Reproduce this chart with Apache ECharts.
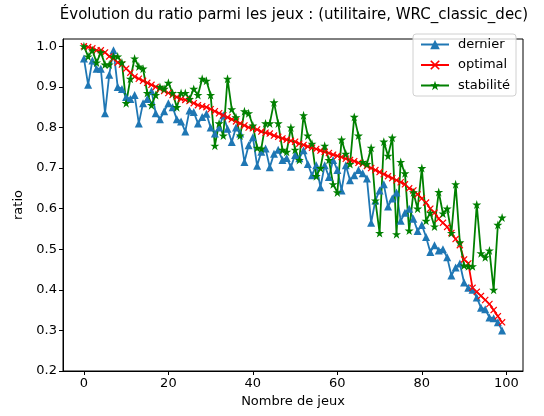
<!DOCTYPE html>
<html>
<head>
<meta charset="utf-8">
<script src="https://cdn.jsdelivr.net/npm/echarts@6/dist/echarts.min.js"></script>
<style>
html,body{margin:0;padding:0;background:#fff;}
#chart{width:544px;height:416px;}
</style>
</head>
<body>
<div id="chart"></div>
<script>
var games = [0,1,2,3,4,5,6,7,8,9,10,11,12,13,14,15,16,17,18,19,20,21,22,23,24,25,26,27,28,29,30,31,32,33,34,35,36,37,38,39,40,41,42,43,44,45,46,47,48,49,50,51,52,53,54,55,56,57,58,59,60,61,62,63,64,65,66,67,68,69,70,71,72,73,74,75,76,77,78,79,80,81,82,83,84,85,86,87,88,89,90,91,92,93,94,95,96,97,98,99];

var dernier = [0.97,0.905,0.965,0.945,0.945,0.835,0.93,0.99,0.90,0.895,
0.875,0.87,0.88,0.81,0.86,0.87,0.89,0.835,0.82,0.84,
0.86,0.85,0.82,0.815,0.79,0.842,0.838,0.81,0.826,0.834,
0.80,0.785,0.80,0.83,0.797,0.764,0.80,0.785,0.715,0.756,
0.776,0.706,0.74,0.748,0.702,0.735,0.745,0.72,0.725,0.703,
0.732,0.724,0.744,0.71,0.682,0.707,0.653,0.707,0.678,0.72,
0.695,0.645,0.707,0.67,0.682,0.695,0.687,0.674,0.565,0.62,
0.645,0.66,0.605,0.625,0.64,0.57,0.59,0.60,0.575,0.545,
0.56,0.53,0.493,0.51,0.497,0.50,0.48,0.435,0.455,0.465,
0.418,0.405,0.40,0.381,0.356,0.352,0.332,0.33,0.32,0.30];

var optimal = [1.0,0.998,0.995,0.99,0.99,0.985,0.975,0.97,0.96,0.955,
0.945,0.935,0.925,0.92,0.915,0.91,0.905,0.90,0.895,0.89,
0.885,0.88,0.875,0.87,0.868,0.865,0.86,0.855,0.852,0.85,
0.845,0.84,0.835,0.83,0.825,0.82,0.815,0.81,0.805,0.80,
0.798,0.795,0.79,0.787,0.785,0.78,0.777,0.773,0.77,0.767,
0.765,0.76,0.757,0.753,0.75,0.747,0.743,0.74,0.737,0.733,
0.73,0.727,0.723,0.72,0.717,0.713,0.71,0.705,0.70,0.695,
0.69,0.685,0.68,0.675,0.67,0.665,0.66,0.65,0.645,0.635,
0.625,0.615,0.60,0.59,0.575,0.565,0.555,0.54,0.525,0.51,
0.475,0.465,0.405,0.395,0.385,0.375,0.365,0.35,0.335,0.32];

var stabilite = [1.0,0.975,0.99,0.96,0.985,0.955,0.955,0.975,0.975,0.96,
0.86,0.92,0.97,0.95,0.945,0.885,0.855,0.88,0.90,0.895,
0.91,0.885,0.85,0.885,0.885,0.87,0.895,0.88,0.92,0.915,
0.88,0.755,0.81,0.78,0.92,0.845,0.825,0.78,0.84,0.835,
0.805,0.75,0.748,0.81,0.81,0.862,0.81,0.745,0.74,0.80,
0.745,0.72,0.83,0.78,0.76,0.68,0.70,0.755,0.72,0.66,
0.64,0.77,0.735,0.71,0.826,0.78,0.715,0.71,0.75,0.62,
0.54,0.765,0.73,0.775,0.537,0.715,0.687,0.546,0.64,0.60,
0.70,0.57,0.59,0.556,0.641,0.588,0.60,0.54,0.66,0.517,
0.46,0.458,0.458,0.61,0.49,0.48,0.497,0.40,0.56,0.578];

var xTicks = [0,20,40,60,80,100];
var yTicks = [0.2,0.3,0.4,0.5,0.6,0.7,0.8,0.9,1.0];

function pairs(vals){ return games.map(function(g,i){ return [g, vals[i]]; }); }

var FONT = 'DejaVu Sans';
var xSym = 'path://M0,1.2L1.2,0L5,3.8L8.8,0L10,1.2L6.2,5L10,8.8L8.8,10L5,6.2L1.2,10L0,8.8L3.8,5Z';
var starSym = 'path://M10,0L12.245,6.91L19.511,6.91L13.633,11.18L15.878,18.09L10,13.82L4.122,18.09L6.367,11.18L0.489,6.91L7.755,6.91Z';

var chart = echarts.init(document.getElementById('chart'), null, {renderer:'canvas'});
chart.setOption({
  animation:false,
  backgroundColor:'#fff',
  title:{
    text:'Évolution du ratio parmi les jeux : (utilitaire, WRC_classic_dec)',
    left:289, top:3, textAlign:'center',
    textStyle:{fontFamily:FONT, fontSize:15, fontWeight:'normal', color:'#000'}
  },
  legend:{
    orient:'vertical', left:413, top:34,
    padding:[4,6,4,7],
    borderColor:'#d0d0d0', borderWidth:1, borderRadius:3,
    backgroundColor:'rgba(255,255,255,0.8)',
    itemWidth:28, itemHeight:12, itemGap:7.5,
    textStyle:{fontFamily:FONT, fontSize:13, color:'#000', padding:[0,0,0,4]},
    data:['dernier','optimal','stabilité']
  },
  grid:{left:63, right:21, top:39, bottom:45, show:true, borderColor:'#000', borderWidth:1, backgroundColor:'transparent'},
  xAxis:{
    type:'value', min:-4.95, max:103.95,
    name:'Nombre de jeux', nameLocation:'middle', nameGap:24,
    nameTextStyle:{fontFamily:FONT, fontSize:13, color:'#000'},
    axisLine:{show:true, onZero:false, lineStyle:{color:'#000', width:1}},
    axisTick:{show:true, length:4, customValues:xTicks, lineStyle:{color:'#000'}},
    axisLabel:{customValues:xTicks, fontFamily:FONT, fontSize:13, color:'#000', margin:6},
    splitLine:{show:false}
  },
  yAxis:{
    type:'value', min:0.2, max:1.018,
    name:'ratio', nameLocation:'middle', nameGap:35, nameRotate:90,
    nameTextStyle:{fontFamily:FONT, fontSize:13, color:'#000'},
    axisLine:{show:true, onZero:false, lineStyle:{color:'#000', width:1}},
    axisTick:{show:true, length:4, customValues:yTicks, lineStyle:{color:'#000'}},
    axisLabel:{customValues:yTicks, fontFamily:FONT, fontSize:13, color:'#000', margin:6,
      formatter:function(v){ return v.toFixed(1); }},
    splitLine:{show:false}
  },
  series:[
    {name:'dernier', type:'line', data:pairs(dernier), symbol:'triangle', symbolSize:8,
     showAllSymbol:true,
     lineStyle:{color:'#1f77b4', width:1.8}, itemStyle:{color:'#1f77b4'}},
    {name:'optimal', type:'line', data:pairs(optimal), symbol:xSym, symbolSize:7,
     showAllSymbol:true,
     lineStyle:{color:'#ff0000', width:1.8}, itemStyle:{color:'#ff0000'}},
    {name:'stabilité', type:'line', data:pairs(stabilite), symbol:starSym, symbolSize:9,
     showAllSymbol:true,
     lineStyle:{color:'#008000', width:1.8}, itemStyle:{color:'#008000'}}
  ]
});
</script>
</body>
</html>
